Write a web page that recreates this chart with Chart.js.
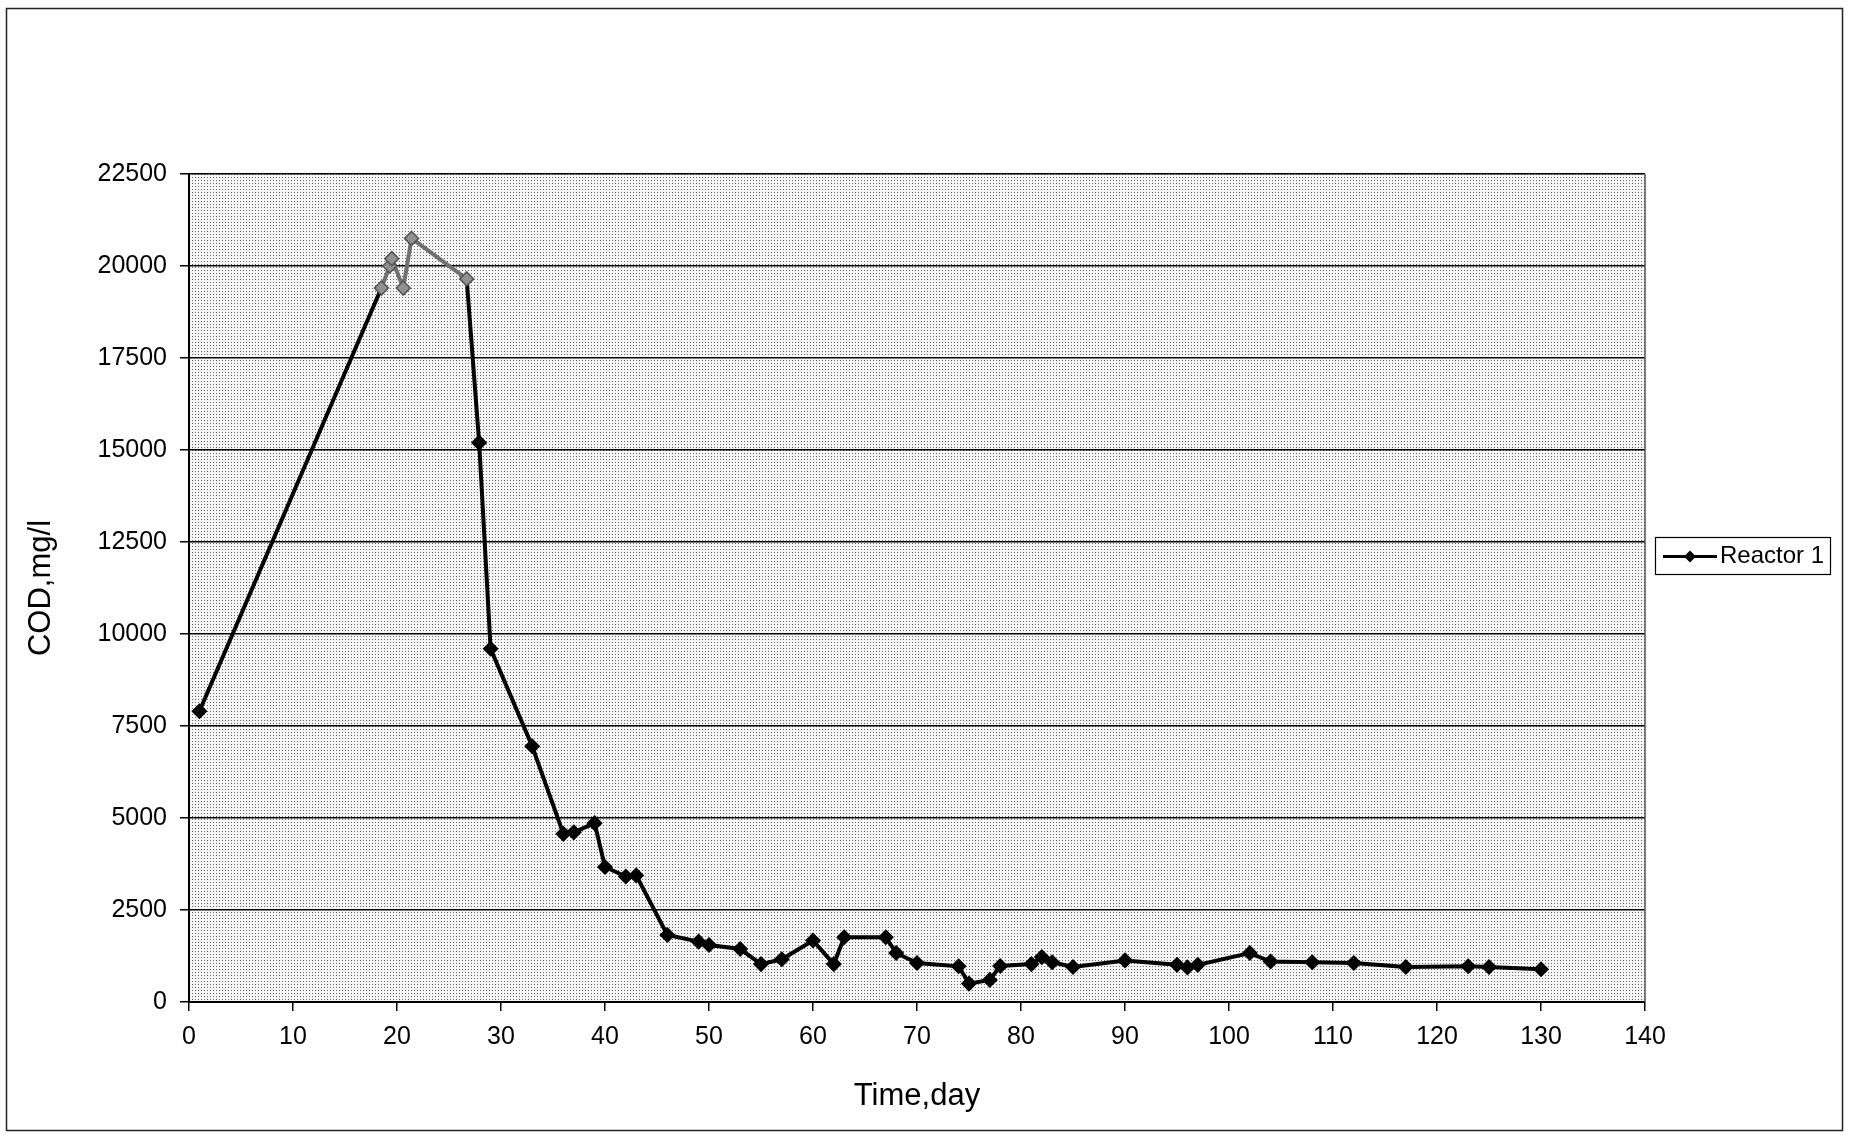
<!DOCTYPE html>
<html>
<head>
<meta charset="utf-8">
<script src="https://cdn.jsdelivr.net/npm/chart.js@4/dist/chart.umd.min.js"></script>
<style>
  html, body { margin: 0; padding: 0; background: #ffffff; }
  #wrap { position: relative; width: 1849px; height: 1134px; }
  canvas { display: block; }
</style>
</head>
<body>
<div id="wrap"><canvas id="c" width="1849" height="1134"></canvas></div>
<script>
const seriesName = 'Reactor 1';
const days = [1, 18.5, 19.3, 19.5, 20.6, 21.4, 26.7, 27.9,
              29, 33, 36, 37, 39, 40, 42, 43,
              46, 49, 50, 53, 55, 57, 60, 62,
              63, 67, 68, 70, 74, 75, 77, 78,
              81, 82, 83, 85, 90, 95, 96, 97,
              102, 104, 108, 112, 117, 123, 125, 130];
const cod = [7900, 19400, 20000, 20200, 19400, 20750, 19650, 15200,
             9600, 6950, 4570, 4610, 4860, 3670, 3410, 3440,
             1820, 1640, 1550, 1440, 1030, 1160, 1670, 1030,
             1760, 1760, 1330, 1060, 970, 500, 600, 980,
             1030, 1220, 1080, 950, 1130, 1010, 940, 1010,
             1330, 1100, 1080, 1060, 950, 970, 950, 890];
const xTicks = [0, 10, 20, 30, 40, 50, 60, 70, 80, 90, 100, 110, 120, 130, 140];
const yTicks = [0, 2500, 5000, 7500, 10000, 12500, 15000, 17500, 20000, 22500];
const xTitle = 'Time,day';
const yTitle = 'COD,mg/l';

const FONT = '"Liberation Sans", Arial, sans-serif';

// dotted background pattern for plot area
function makePattern(ctx) {
  const t = document.createElement('canvas');
  t.width = 3; t.height = 3;
  const g = t.getContext('2d');
  g.fillStyle = '#f6f6f6';
  g.fillRect(0, 0, 3, 3);
  g.fillStyle = '#6a6a6a';
  g.fillRect(0, 0, 1, 1);
  return ctx.createPattern(t, 'repeat');
}

const isPeak = (x) => x >= 18 && x <= 27;

const framePlugin = {
  id: 'frame',
  beforeDraw(chart) {
    const {ctx, chartArea: a} = chart;
    ctx.save();
    ctx.fillStyle = makePattern(ctx);
    ctx.fillRect(a.left, a.top, a.right - a.left, a.bottom - a.top);
    ctx.restore();
  },
  afterDatasetsDraw(chart) {
    const {ctx, chartArea: a} = chart;
    ctx.save();
    ctx.strokeStyle = '#555555';
    ctx.lineWidth = 1.5;
    ctx.beginPath();
    ctx.moveTo(a.right, a.top);
    ctx.lineTo(a.right, a.bottom);
    ctx.stroke();
    // outer border of the whole chart
    ctx.strokeStyle = '#222222';
    ctx.lineWidth = 1.5;
    ctx.strokeRect(6.5, 8.5, 1836, 1122);
    // legend box
    const lx = 1655, ly = 537, lw = 175, lh = 37;
    ctx.fillStyle = '#ffffff';
    ctx.fillRect(lx, ly, lw, lh);
    ctx.strokeStyle = '#000000';
    ctx.lineWidth = 1.2;
    ctx.strokeRect(lx + 0.5, ly + 0.5, lw, lh);
    const cy = ly + lh / 2 + 1;
    ctx.lineWidth = 3;
    ctx.beginPath();
    ctx.moveTo(1663, cy);
    ctx.lineTo(1717, cy);
    ctx.stroke();
    ctx.fillStyle = '#000000';
    ctx.beginPath();
    ctx.moveTo(1690, cy - 6);
    ctx.lineTo(1696, cy);
    ctx.lineTo(1690, cy + 6);
    ctx.lineTo(1684, cy);
    ctx.closePath();
    ctx.fill();
    ctx.font = '24px ' + FONT;
    ctx.textBaseline = 'middle';
    ctx.textAlign = 'left';
    ctx.fillText(chart.data.datasets[0].label, 1720, cy);
    ctx.restore();
  }
};

const points = days.map((d, i) => ({x: d, y: cod[i]}));

new Chart(document.getElementById('c'), {
  type: 'line',
  data: {
    datasets: [{
      label: seriesName,
      data: points,
      borderColor: '#000000',
      borderWidth: 4,
      pointStyle: 'rectRot',
      pointRadius: 7,
      pointBackgroundColor: days.map(d => isPeak(d) ? '#909090' : '#000000'),
      pointBorderColor: days.map(d => isPeak(d) ? '#555555' : '#000000'),
      pointBorderWidth: 1.5,
      tension: 0,
      segment: {
        borderColor: c => (isPeak(c.p0.parsed.x) && isPeak(c.p1.parsed.x)) ? '#707070' : '#000000'
      }
    }]
  },
  options: {
    responsive: false,
    animation: false,
    layout: { padding: { left: 0, right: 204, top: 174, bottom: 0 } },
    plugins: {
      legend: { display: false },
      tooltip: { enabled: false }
    },
    scales: {
      x: {
        type: 'linear',
        min: 0, max: 140,
        afterBuildTicks: s => { s.ticks = xTicks.map(v => ({value: v})); },
        afterFit: s => { s.height = 132; },
        grid: { drawOnChartArea: false, drawTicks: true, tickLength: 9, color: '#000000', lineWidth: 1.5 },
        border: { display: true, color: '#000000', width: 2 },
        ticks: { color: '#000000', font: { family: FONT, size: 25 }, padding: 11, maxRotation: 0 },
        title: { display: true, text: xTitle, color: '#000000', font: { family: FONT, size: 31 }, padding: { top: 0, bottom: 19 } }
      },
      y: {
        type: 'linear',
        min: 0, max: 22500,
        afterBuildTicks: s => { s.ticks = yTicks.map(v => ({value: v})); },
        afterFit: s => { s.width = 189; },
        grid: { drawOnChartArea: true, drawTicks: true, tickLength: 9, color: '#000000', lineWidth: 1.5 },
        border: { display: true, color: '#000000', width: 2 },
        ticks: { color: '#000000', font: { family: FONT, size: 25 }, padding: 13, callback: v => String(v) },
        title: { display: true, text: yTitle, color: '#000000', font: { family: FONT, size: 31 }, padding: { top: 23, bottom: 0 } }
      }
    }
  },
  plugins: [framePlugin]
});
</script>
</body>
</html>
